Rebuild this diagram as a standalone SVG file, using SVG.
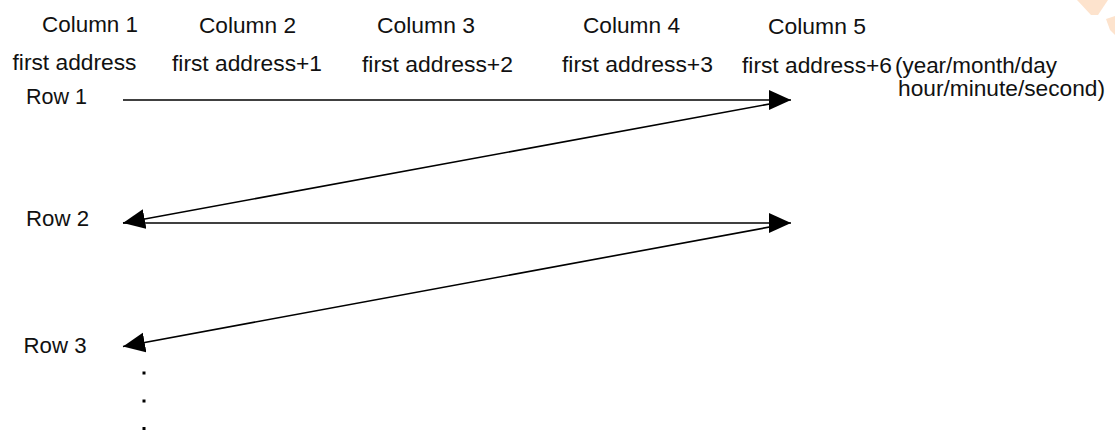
<svg xmlns="http://www.w3.org/2000/svg" width="1115" height="433" viewBox="0 0 1115 433">
<style>
text{font-family:"Liberation Sans",Arial,sans-serif;font-size:22px;fill:#111}
.ln{stroke:#000;stroke-width:1.6;fill:none}
</style>
<defs>
<marker id="ah" markerUnits="userSpaceOnUse" markerWidth="24" markerHeight="22" refX="22" refY="10" orient="auto" viewBox="0 0 24 22">
<path d="M0,0 L22,10 L0,20 Z" fill="#000"/>
</marker>
</defs>
<rect width="1115" height="433" fill="#fff"/>
<g id="watermark" fill="#fde3cd">
<polygon points="1077,0 1108,0 1098,15 1091,15"/>
<polygon points="1106,19 1115,16 1115,35 1110,30"/>
</g>
<g id="col1"><text x="42" y="31.5" textLength="96" lengthAdjust="spacingAndGlyphs">Column 1</text><text x="12.5" y="69.5" textLength="124" lengthAdjust="spacingAndGlyphs">first address</text></g>
<g id="col2"><text x="199" y="32.5" textLength="97" lengthAdjust="spacingAndGlyphs">Column 2</text><text x="172" y="71" textLength="150" lengthAdjust="spacingAndGlyphs">first address+1</text></g>
<g id="col3"><text x="377" y="32.5" textLength="98" lengthAdjust="spacingAndGlyphs">Column 3</text><text x="362" y="71.5" textLength="151" lengthAdjust="spacingAndGlyphs">first address+2</text></g>
<g id="col4"><text x="583" y="32.5" textLength="97" lengthAdjust="spacingAndGlyphs">Column 4</text><text x="562" y="71.5" textLength="151" lengthAdjust="spacingAndGlyphs">first address+3</text></g>
<g id="col5"><text x="768" y="34" textLength="98" lengthAdjust="spacingAndGlyphs">Column 5</text><text x="742" y="72.5" textLength="150" lengthAdjust="spacingAndGlyphs">first address+6</text><text x="895" y="72.5" textLength="162" lengthAdjust="spacingAndGlyphs">(year/month/day</text><text x="898" y="95.5" textLength="207" lengthAdjust="spacingAndGlyphs">hour/minute/second)</text></g>
<g id="row1"><text x="26" y="104" textLength="61" lengthAdjust="spacingAndGlyphs">Row 1</text></g>
<g id="row2"><text x="26" y="226" textLength="63" lengthAdjust="spacingAndGlyphs">Row 2</text></g>
<g id="row3"><text x="23.5" y="352.5" textLength="63" lengthAdjust="spacingAndGlyphs">Row 3</text></g>
<g id="connectors">
<line class="ln" x1="123" y1="100" x2="791" y2="100" marker-end="url(#ah)"/>
<line class="ln" x1="786" y1="101" x2="123" y2="223" marker-end="url(#ah)"/>
<line class="ln" x1="123" y1="223" x2="791" y2="223" marker-end="url(#ah)"/>
<line class="ln" x1="786" y1="224" x2="123" y2="346.5" marker-end="url(#ah)"/>
</g>
<g id="dots" fill="#000">
<rect x="142.5" y="371.5" width="3" height="3"/>
<rect x="142.5" y="399.5" width="3" height="3"/>
<rect x="142.5" y="427" width="3" height="3"/>
</g>
</svg>
